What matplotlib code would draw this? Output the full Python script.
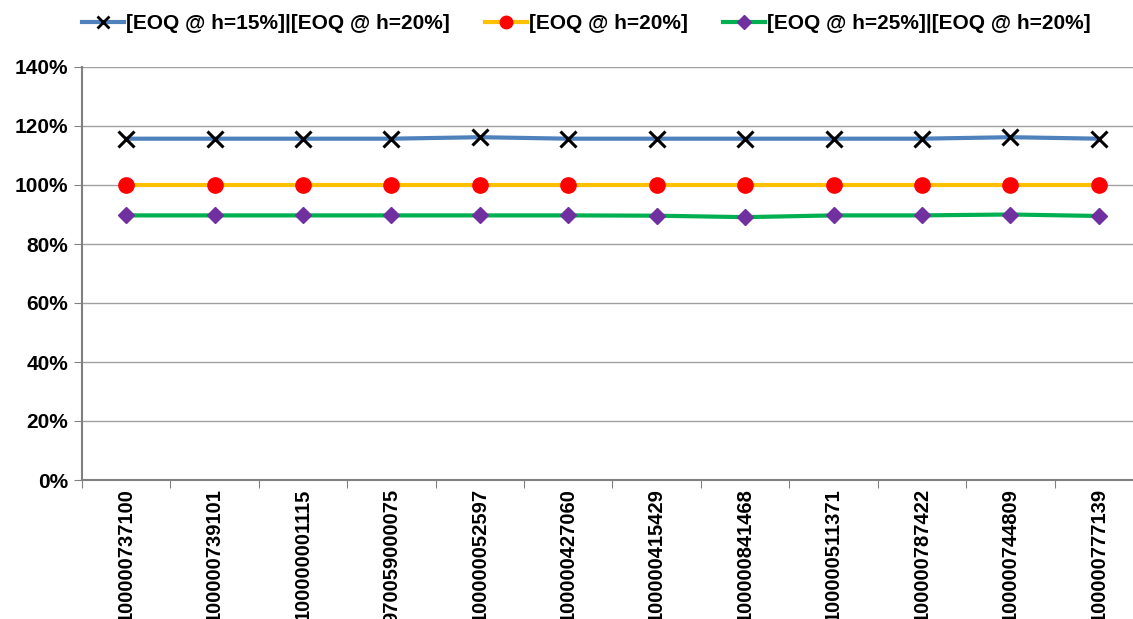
import matplotlib
matplotlib.use("Agg")
import matplotlib.pyplot as plt
from matplotlib.ticker import FixedLocator, FuncFormatter, NullFormatter
from matplotlib.lines import Line2D

plt.rcParams['font.family'] = ['Liberation Sans', 'DejaVu Sans']
plt.rcParams['font.weight'] = 'bold'

# Item codes along the x axis
items = ["100000737100", "100000739101", "100000001115", "970059000075",
         "100000052597", "100000427060", "100000415429", "100000841468",
         "100000511371", "100000787422", "100000744809", "100000777139"]

# Ratios in percent
ratio_h15 = [115.7, 115.7, 115.7, 115.7, 116.2, 115.7, 115.7, 115.7, 115.7, 115.7, 116.2, 115.7]
ratio_h20 = [100, 100, 100, 100, 100, 100, 100, 100, 100, 100, 100, 100]
ratio_h25 = [89.7, 89.7, 89.7, 89.7, 89.7, 89.7, 89.6, 89.1, 89.7, 89.7, 90.0, 89.5]

labels = ["[EOQ @ h=15%]|[EOQ @ h=20%]", "[EOQ @ h=20%]", "[EOQ @ h=25%]|[EOQ @ h=20%]"]

fs = 15

fig = plt.figure(figsize=(11.33, 6.19), dpi=100)
ax = fig.add_axes([82 / 1133, (619 - 480) / 619, (1143 - 82) / 1133, (480 - 67) / 619])

x = list(range(len(items)))
ax.plot(x, [v / 100 for v in ratio_h15], color='#4F81BD', lw=3,
        marker='x', ms=11, mec='black', mew=2.2, zorder=3)
ax.plot(x, [v / 100 for v in ratio_h20], color='#FFC000', lw=3,
        marker='o', ms=11, mfc='#FF0000', mec='#FF0000', zorder=3)
ax.plot(x, [v / 100 for v in ratio_h25], color='#00B050', lw=3,
        marker='D', ms=8.5, mfc='#7030A0', mec='#7030A0', zorder=3)

ax.set_ylim(0, 1.4)
ax.set_xlim(-0.5, len(items) - 0.5)
ax.yaxis.set_major_locator(FixedLocator([i * 0.2 for i in range(8)]))
ax.yaxis.set_major_formatter(FuncFormatter(lambda v, p: f"{v * 100:.0f}%"))
ax.grid(axis='y', color='#A0A0A0', lw=1)
ax.set_axisbelow(True)

# Category boundary ticks, labels centred on each category
ax.xaxis.set_major_locator(FixedLocator([i - 0.5 for i in range(len(items) + 1)]))
ax.xaxis.set_major_formatter(NullFormatter())
ax.xaxis.set_minor_locator(FixedLocator(x))
ax.set_xticklabels(items, minor=True, rotation=90, fontsize=14.5, fontweight='bold',
                   va='top', ha='center')
ax.tick_params(axis='x', which='minor', length=0, pad=6)
ax.tick_params(axis='x', which='major', length=6, color='#808080', direction='out')
ax.tick_params(axis='y', length=6, color='#808080', labelsize=fs, pad=4)

for s in ['top', 'right']:
    ax.spines[s].set_visible(False)
for s in ['left', 'bottom']:
    ax.spines[s].set_color('#808080')
    ax.spines[s].set_linewidth(1.5)

handles = [
    Line2D([], [], color='#4F81BD', lw=3, marker='x', ms=9, mec='black', mew=2),
    Line2D([], [], color='#FFC000', lw=3, marker='o', ms=9, mfc='#FF0000', mec='#FF0000'),
    Line2D([], [], color='#00B050', lw=3, marker='D', ms=7, mfc='#7030A0', mec='#7030A0'),
]
fig.legend(handles, labels, loc='center', bbox_to_anchor=(0.5177, 0.962), ncol=3,
           frameon=False, handlelength=2.0, handletextpad=0.1,
           columnspacing=1.7, borderpad=0, borderaxespad=0,
           prop={'weight': 'bold', 'size': fs})

fig.savefig("out.png", dpi=100)
